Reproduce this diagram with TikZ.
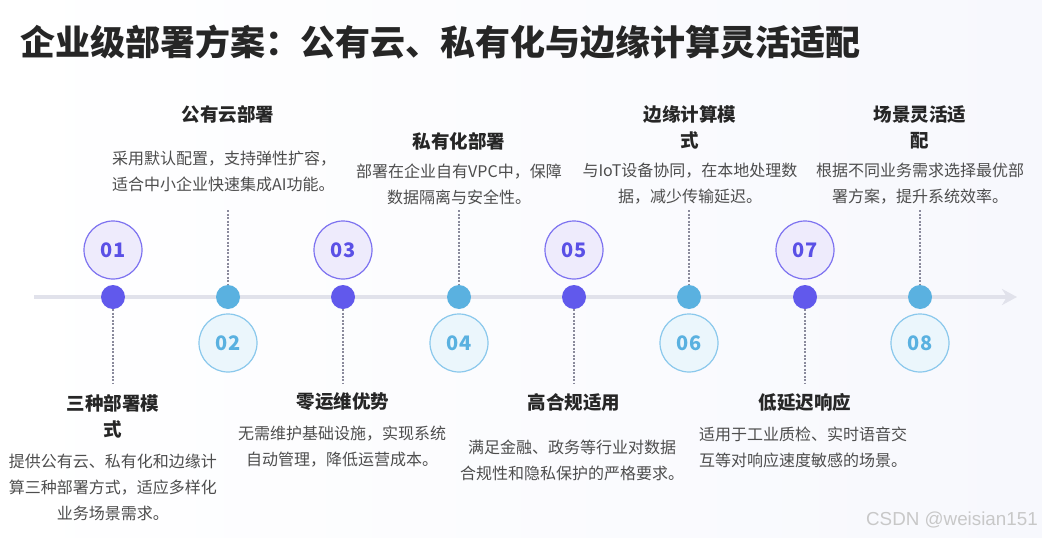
\documentclass[tikz,border=0pt]{standalone}
\usepackage{fontspec}
\setmainfont{Noto Sans CJK SC}
\newfontfamily\wmfont{Liberation Sans}
\usetikzlibrary{arrows.meta}
\definecolor{dotodd}{HTML}{6159EC}
\definecolor{doteven}{HTML}{5AB1E0}
\definecolor{numoddfill}{HTML}{EEEBFC}
\definecolor{numoddline}{HTML}{7D72F0}
\definecolor{numoddtext}{HTML}{5A50E6}
\definecolor{numevenfill}{HTML}{EBF6FC}
\definecolor{numevenline}{HTML}{8AC8EC}
\definecolor{numeventext}{HTML}{5AB1E0}
\definecolor{axiscol}{HTML}{E1E2EB}
\definecolor{conncol}{HTML}{8A8A9C}
\definecolor{titlecol}{HTML}{262626}
\definecolor{desccol}{HTML}{4D4D4D}
\definecolor{wmcol}{HTML}{C8C8C8}
\definecolor{bgright}{HTML}{F7F8FD}
\begin{document}
\begin{tikzpicture}[x=1pt,y=-1pt,
  dotA/.style={circle, fill=dotodd, minimum size=24pt, inner sep=0pt},
  dotB/.style={circle, fill=doteven, minimum size=24pt, inner sep=0pt},
  numA/.style={circle, draw=numoddline, line width=1.2pt, fill=numoddfill, text=numoddtext, minimum size=58pt, inner sep=0pt, font=\bfseries\fontsize{20}{20}\selectfont},
  numB/.style={circle, draw=numevenline, line width=1.2pt, fill=numevenfill, text=numeventext, minimum size=58pt, inner sep=0pt, font=\bfseries\fontsize{20}{20}\selectfont},
  ttl/.style={font=\bfseries\fontsize{18.5}{26}\selectfont, text=titlecol, align=center, inner sep=0pt},
  dsc/.style={font=\fontsize{16}{26}\selectfont, text=desccol, inner sep=0pt},
  conn/.style={draw=conncol, line width=1.5pt, dash pattern=on 2pt off 1.5pt},
  axisline/.style={draw=axiscol, line width=4pt, -{Stealth[length=15pt,width=16pt]}}
]
\useasboundingbox[left color=white, right color=bgright] (0,0) rectangle (1042,538);

% main title
\node[anchor=west, inner sep=0pt, text=titlecol, font=\bfseries\fontsize{35}{40}\selectfont] (title) at (20,42) {企业级部署方案：公有云、私有化与边缘计算灵活适配};

% axis
\coordinate (axL) at (34,297);
\coordinate (axR) at (1017,297);
\draw[axisline] (axL) -- (axR);

% dots
\node[dotA] (d1) at (113,297) {};
\node[dotB] (d2) at (228,297) {};
\node[dotA] (d3) at (343,297) {};
\node[dotB] (d4) at (459,297) {};
\node[dotA] (d5) at (574,297) {};
\node[dotB] (d6) at (689,297) {};
\node[dotA] (d7) at (805,297) {};
\node[dotB] (d8) at (920,297) {};

% number circles
\node[numA] (n1) at (113,250) {01};
\node[numB] (n2) at (228,343) {02};
\node[numA] (n3) at (343,250) {03};
\node[numB] (n4) at (459,343) {04};
\node[numA] (n5) at (574,250) {05};
\node[numB] (n6) at (689,343) {06};
\node[numA] (n7) at (805,250) {07};
\node[numB] (n8) at (920,343) {08};

% connector ends
\coordinate (e1) at (113,383);
\coordinate (e2) at (228,210);
\coordinate (e3) at (343,383);
\coordinate (e4) at (459,210);
\coordinate (e5) at (574,383);
\coordinate (e6) at (689,210);
\coordinate (e7) at (805,383);
\coordinate (e8) at (920,210);

\draw[conn] (d1.south) -- (e1);
\draw[conn] (e2) -- (d2.north);
\draw[conn] (d3.south) -- (e3);
\draw[conn] (e4) -- (d4.north);
\draw[conn] (d5.south) -- (e5);
\draw[conn] (e6) -- (d6.north);
\draw[conn] (d7.south) -- (e7);
\draw[conn] (e8) -- (d8.north);

% top texts
\node[ttl] (t2) at (228,114) {公有云部署};
\node[dsc, anchor=west, align=left] (s2) at (112,171) {采用默认配置，支持弹性扩容，\\适合中小企业快速集成AI功能。};

\node[ttl] (t4) at (459,141) {私有化部署};
\node[dsc, align=center] (s4) at (459,184.5) {部署在企业自有VPC中，保障\\数据隔离与安全性。};

\node[ttl] (t6) at (690,127) {边缘计算模\\式};
\node[dsc, align=center] (s6) at (690,184) {与IoT设备协同，在本地处理数\\据，减少传输延迟。};

\node[ttl] (t8) at (920,127) {场景灵活适\\配};
\node[dsc, align=center] (s8) at (920,184) {根据不同业务需求选择最优部\\署方案，提升系统效率。};

% bottom texts
\node[ttl] (t1) at (113,416) {三种部署模\\式};
\node[dsc, align=center] (s1) at (113,487) {提供公有云、私有化和边缘计\\算三种部署方式，适应多样化\\业务场景需求。};

\node[ttl] (t3) at (343,402) {零运维优势};
\node[dsc, align=center] (s3) at (342,447) {无需维护基础设施，实现系统\\自动管理，降低运营成本。};

\node[ttl] (t5) at (574,402) {高合规适用};
\node[dsc, align=center] (s5) at (572,460) {满足金融、政务等行业对数据\\合规性和隐私保护的严格要求。};

\node[ttl] (t7) at (805,402) {低延迟响应};
\node[dsc, anchor=west, align=left] (s7) at (699,447) {适用于工业质检、实时语音交\\互等对响应速度敏感的场景。};

% watermark
\node[anchor=east, inner sep=0pt, text=wmcol, font=\wmfont\fontsize{18.8}{18.8}\selectfont] (wm) at (1038,520) {CSDN @weisian151};
\end{tikzpicture}
\end{document}
